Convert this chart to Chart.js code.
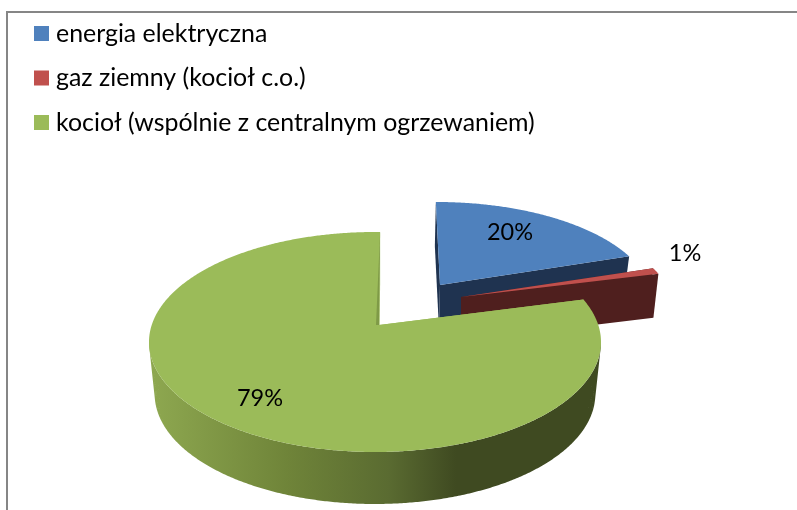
<!DOCTYPE html>
<html>
<head>
<meta charset="utf-8">
<style>html,body{margin:0;padding:0;background:#fff}#w{width:797px;height:510px;position:relative}</style>
<script src="https://cdn.jsdelivr.net/npm/chart.js@4"></script>
</head>
<body>
<div id="w"><canvas id="c" width="797" height="510"></canvas></div>
<script>
const categories = ['energia elektryczna', 'gaz ziemny (kocioł c.o.)', 'kocioł (wspólnie z centralnym ogrzewaniem)'];
const shares = [20, 1, 79];
const sliceColors = ['#4f81bd', '#c0504d', '#9bbb59'];

const LEGEND_FONT = '24.9px Lato, "Open Sans", sans-serif';
const LABEL_FONT = '23.5px Lato, "Open Sans", sans-serif';
const solids = [
  {ax:440, ay:285, cx:437, cy:302, a:216, b:100, skew:-0.05, depth:44, bx:-1, shrink:.975, wall:'#1f3350', rim:'#1f3350'},
  {ax:461, ay:297, cx:458, cy:312, a:217, b:100, skew:0, depth:44, bx:0, shrink:.975, wall:'#4f1f1e', rim:'#4f1f1e'},
  {ax:379, ay:325, cx:375, cy:342, a:226, b:110, skew:0.012, depth:52, bx:0, shrink:.975, wall:'#9bbb59', rim:null, lip:'#7f9a47'}
];
const labelSpots = [[510,232],[685,253],[260,398]];

function ray(s, th, low) {
  const A = [s.ax + (low ? s.bx : 0), s.ay + (low ? s.depth : 0)];
  const C = [s.cx + (low ? s.bx : 0), s.cy + (low ? s.depth : 0)];
  const a = low ? s.a * s.shrink : s.a, b = s.b;
  const dx = Math.sin(th) * a + s.skew * Math.cos(th) * b, dy = -Math.cos(th) * b;
  const ux = A[0] - C[0], uy = A[1] - C[1];
  const qa = dx*dx/(a*a) + dy*dy/(b*b);
  const qb = 2*(ux*dx/(a*a) + uy*dy/(b*b));
  const qc = ux*ux/(a*a) + uy*uy/(b*b) - 1;
  const t = (-qb + Math.sqrt(qb*qb - 4*qa*qc)) / (2*qa);
  return [A[0] + t*dx, A[1] + t*dy];
}
function trace(ctx, pts) {
  pts.forEach((p,i) => i ? ctx.lineTo(p[0],p[1]) : ctx.moveTo(p[0],p[1]));
  ctx.closePath();
}
function poly(ctx, pts, fill) {
  ctx.beginPath();
  trace(ctx, pts);
  ctx.fillStyle = fill;
  ctx.fill();
}
function area(q) {
  let z = 0;
  q.forEach((p,i) => { const n = q[(i+1)%q.length]; z += p[0]*n[1]-n[0]*p[1]; });
  return z;
}
function arcPts(s, t0, t1, low) {
  const out = [], n = Math.max(2, Math.ceil((t1-t0)/0.008));
  for (let i=0;i<=n;i++) out.push(ray(s, t0+(t1-t0)*i/n, low));
  return out;
}
const solidPie = {
  id: 'solidPie',
  beforeDatasetDraw(chart, args) {
    const ctx = chart.ctx, meta = args.meta;
    ctx.save();
    meta.data.forEach((el, i) => {
      const s = solids[i];
      const t0 = el.startAngle + Math.PI/2, t1 = el.endAngle + Math.PI/2;
      const A = [s.ax, s.ay], Al = [s.ax+s.bx, s.ay+s.depth];
      [t0, t1].forEach(t => poly(ctx, [A, ray(s,t,false), ray(s,t,true), Al], s.wall));
      let rim = s.rim;
      if (!rim) {
        rim = ctx.createLinearGradient(150,0,456,0);
        rim.addColorStop(0,'#8ea850');
        rim.addColorStop(.45,'#6f8439');
        rim.addColorStop(.78,'#5a6b31');
        rim.addColorStop(1,'#3f4a21');
      }
      const up = arcPts(s,t0,t1,false), lo = arcPts(s,t0,t1,true);
      ctx.beginPath();
      for (let k=0;k<up.length-1;k++) {
        if (up[k][1] < s.cy - 3) continue;
        const q = [up[k],up[k+1],lo[k+1],lo[k]];
        trace(ctx, area(q) < 0 ? q.reverse() : q);
      }
      ctx.fillStyle = rim;
      ctx.fill();
      poly(ctx, [A].concat(up), chart.data.datasets[0].backgroundColor[i]);
      if (s.lip) poly(ctx, [ray(s,t1,false), A, [A[0]-3, A[1]]], s.lip);
    });
    ctx.restore();
    return false;
  },
  afterDraw(chart) {
    const ctx = chart.ctx, vals = chart.data.datasets[0].data;
    const total = vals.reduce((x,y)=>x+y,0);
    ctx.save();
    ctx.strokeStyle = '#868686'; ctx.lineWidth = 2;
    ctx.beginPath(); ctx.moveTo(7,510); ctx.lineTo(7,12); ctx.lineTo(797,12); ctx.stroke();
    ctx.textBaseline = 'middle';
    ctx.font = LEGEND_FONT;
    chart.data.labels.forEach((t,i) => {
      const y = 33.5 + i*44.5;
      ctx.fillStyle = chart.data.datasets[0].backgroundColor[i];
      ctx.fillRect(34, y-7.5, 15, 15);
      ctx.fillStyle = '#000'; ctx.textAlign = 'left';
      ctx.fillText(t, 56, y);
    });
    ctx.font = LABEL_FONT;
    ctx.textAlign = 'center';
    vals.forEach((v,i) => ctx.fillText(Math.round(v/total*100)+'%', labelSpots[i][0], labelSpots[i][1]));
    ctx.restore();
  }
};
new Chart(document.getElementById('c'), {
  type: 'pie',
  data: { labels: categories, datasets: [{ data: shares, backgroundColor: sliceColors, borderWidth: 0 }] },
  options: {
    responsive: false, animation: false,
    plugins: { legend: { display: false }, tooltip: { enabled: false } }
  },
  plugins: [solidPie]
});
</script>
</body>
</html>
